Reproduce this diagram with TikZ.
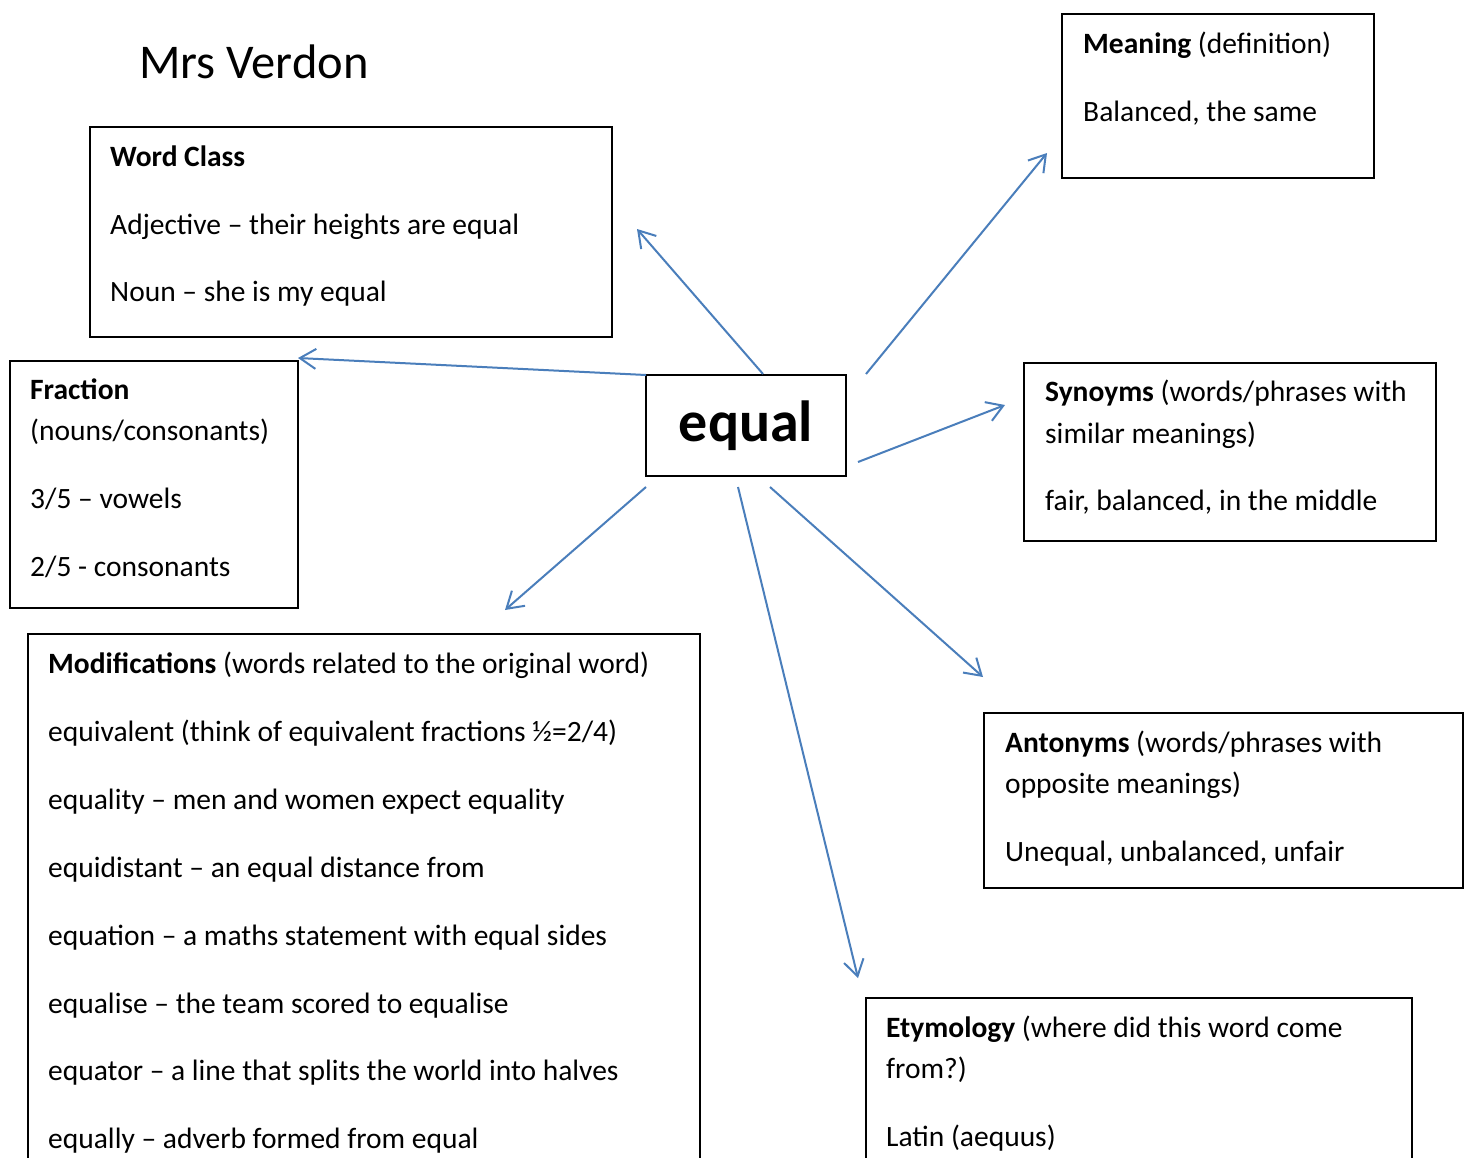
\documentclass[tikz,border=0pt]{standalone}
\usepackage{fontspec}
\setmainfont{Carlito}
\usetikzlibrary{arrows.meta}
\definecolor{arr}{HTML}{4A7EBB}
\begin{document}
\begin{tikzpicture}[x=1pt,y=-1pt,
  box/.style={draw=black,line width=1.8pt,rectangle,inner sep=0pt,outer sep=0pt,anchor=north west},
  txt/.style={anchor=base west,inner sep=0pt,font=\fontsize{29.5}{35}\selectfont},
  con/.style={draw=arr,line width=2pt,-{Straight Barb[length=16pt,width=20pt]}}]
\useasboundingbox (0,0) rectangle (1469,1157);
\fill[white] (0,0) rectangle (1469,1157);

% title
\node[anchor=base west,inner sep=0pt,font=\fontsize{48.5}{50}\selectfont] (title) at (139,78) {Mrs Verdon};

% boxes
\node[box,minimum width=522pt,minimum height=210pt] (wcbox) at (90,127) {};
\node[box,minimum width=288pt,minimum height=247pt] (frbox) at (10,361) {};
\node[box,minimum width=200pt,minimum height=101pt,anchor=center,font=\fontsize{58}{60}\selectfont\bfseries] (eq) at (746,425.5) {equal};
\node[box,minimum width=312pt,minimum height=164pt] (mnbox) at (1062,14) {};
\node[box,minimum width=412pt,minimum height=178pt] (snbox) at (1024,363) {};
\node[box,minimum width=479pt,minimum height=175pt] (anbox) at (984,713) {};
\draw[line width=1.8pt] (28,1165) |- (700,634) -- (700,1165);
\draw[line width=1.8pt] (866,1165) |- (1412,998) -- (1412,1165);

% Word Class
\node[txt] (wc1) at (110,166) {\textbf{Word Class}};
\node[txt] (wc2) at (110,234) {Adjective – their heights are equal};
\node[txt] (wc3) at (110,301) {Noun – she is my equal};

% Fraction
\node[txt] (fr1) at (30,399) {\textbf{Fraction}};
\node[txt] (fr2) at (30,440) {(nouns/consonants)};
\node[txt] (fr3) at (30,508) {3/5 – vowels};
\node[txt] (fr4) at (30,576) {2/5 - consonants};

% Meaning
\node[txt] (mn1) at (1083,53) {\textbf{Meaning} (definition)};
\node[txt] (mn2) at (1083,121) {Balanced, the same};

% Synonyms
\node[txt] (sn1) at (1045,401) {\textbf{Synoyms} (words/phrases with};
\node[txt] (sn2) at (1045,443) {similar meanings)};
\node[txt] (sn3) at (1045,510) {fair, balanced, in the middle};

% Antonyms
\node[txt] (an1) at (1005,752) {\textbf{Antonyms} (words/phrases with};
\node[txt] (an2) at (1005,793) {opposite meanings)};
\node[txt] (an3) at (1005,861) {Unequal, unbalanced, unfair};

% Etymology
\node[txt] (et1) at (886,1037) {\textbf{Etymology} (where did this word come};
\node[txt] (et2) at (886,1078) {from?)};
\node[txt] (et3) at (886,1146) {Latin (aequus)};

% Modifications
\node[txt] (md1) at (48,673) {\textbf{Modifications} (words related to the original word)};
\node[txt] (md2) at (48,741) {equivalent (think of equivalent fractions ½=2/4)};
\node[txt] (md3) at (48,809) {equality – men and women expect equality};
\node[txt] (md4) at (48,877) {equidistant – an equal distance from};
\node[txt] (md5) at (48,945) {equation – a maths statement with equal sides};
\node[txt] (md6) at (48,1013) {equalise – the team scored to equalise};
\node[txt] (md7) at (48,1080) {equator – a line that splits the world into halves};
\node[txt] (md8) at (48,1148) {equally – adverb formed from equal};

% connector end points
\coordinate (s1) at (763,374);  \coordinate (e1) at (637,229);
\coordinate (s2) at (646,375);  \coordinate (e2) at (298,358);
\coordinate (s3) at (866,374);  \coordinate (e3) at (1047,153);
\coordinate (s4) at (858,462);  \coordinate (e4) at (1005,405);
\coordinate (s5) at (646,487);  \coordinate (e5) at (505,610);
\coordinate (s6) at (738,487);  \coordinate (e6) at (858,978);
\coordinate (s7) at (770,487);  \coordinate (e7) at (983,677);

\draw[con] (s1) -- (e1);
\draw[con] (s2) -- (e2);
\draw[con] (s3) -- (e3);
\draw[con] (s4) -- (e4);
\draw[con] (s5) -- (e5);
\draw[con] (s6) -- (e6);
\draw[con] (s7) -- (e7);
\end{tikzpicture}
\end{document}
